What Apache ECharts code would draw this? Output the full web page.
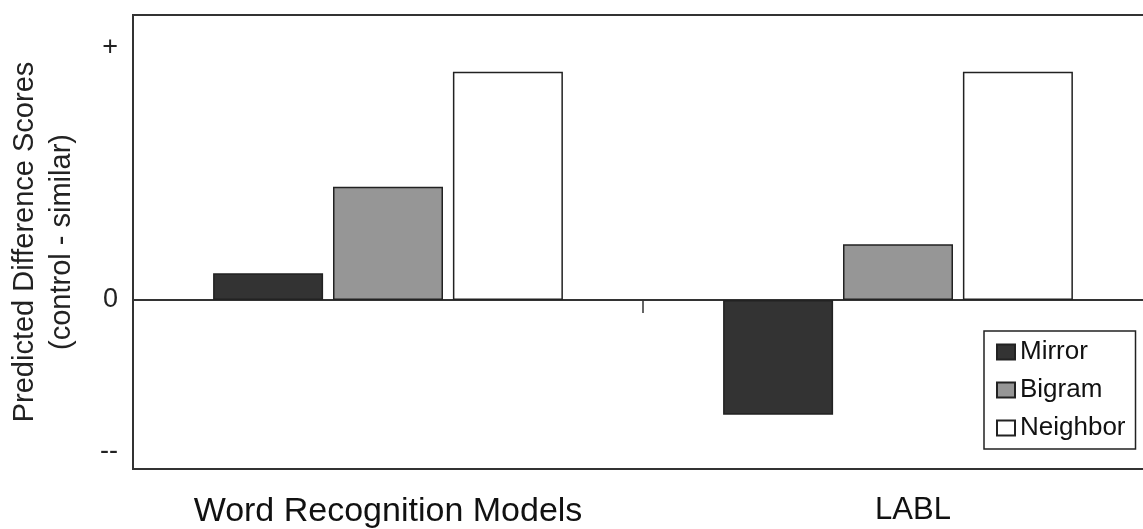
<!DOCTYPE html>
<html>
<head>
<meta charset="utf-8">
<script src="https://cdn.jsdelivr.net/npm/echarts@6/dist/echarts.min.js"></script>
<style>
html,body{margin:0;padding:0;background:#fff;}
#chart{width:1143px;height:529px;}
</style>
</head>
<body>
<div id="chart"></div>
<script>
// Data (y units: "+" tick = 100, "--" tick = -60)
var categories = ['Word Recognition Models', 'LABL'];
var seriesNames = ['Mirror', 'Bigram', 'Neighbor'];
var mirror = [10.6, -45.5];
var bigram = [44.9, 22.1];
var neighbor = [90.5, 90.5];
var yTickLabels = { '100': '+', '0': '0', '-60': '--' };

var FONT = '"Liberation Sans", Arial, sans-serif';
var colors = ['#333333', '#969696', '#ffffff'];
var values = [mirror, bigram, neighbor];

var chart = echarts.init(document.getElementById('chart'), null, { renderer: 'canvas' });

var series = seriesNames.map(function (name, i) {
  return {
    name: name,
    type: 'bar',
    xAxisIndex: 0,
    data: values[i],
    barWidth: 110,
    barGap: '9%',
    itemStyle: { color: colors[i], borderColor: '#222', borderWidth: 1.5 },
    emphasis: { disabled: true }
  };
});

chart.setOption({
  animation: false,
  backgroundColor: '#fff',
  textStyle: { fontFamily: FONT },
  grid: {
    left: 133, top: 15, bottom: 60, right: -10,
    show: true, borderColor: '#333', borderWidth: 2, backgroundColor: 'transparent',
    containLabel: false,
    outerBoundsMode: 'none'
  },
  legend: {
    orient: 'vertical',
    left: 984, top: 331,
    padding: [8, 10, 8, 12],
    itemWidth: 18, itemHeight: 15, itemGap: 12,
    borderColor: '#222', borderWidth: 1.5,
    backgroundColor: '#fff',
    icon: 'rect',
    textStyle: { fontFamily: FONT, fontSize: 26, color: '#111', lineHeight: 26 },
    data: seriesNames
  },
  xAxis: [
    {
      type: 'category',
      data: categories,
      position: 'bottom',
      axisLine: { show: false, onZero: false },
      axisTick: { show: false },
      axisLabel: {
        show: true, margin: 26, color: '#111', fontFamily: FONT, interval: 0,
        formatter: function (v, i) { return i === 0 ? '{a|' + v + '}' : '{b|' + v + '}'; },
        rich: {
          a: { fontSize: 34, color: '#111', fontFamily: FONT },
          b: { fontSize: 31, color: '#111', fontFamily: FONT, padding: [0, 0, 0, 30] }
        }
      },
      splitLine: { show: false }
    },
    {
      type: 'category',
      data: categories,
      position: 'top',
      axisLine: { show: true, onZero: true, lineStyle: { color: '#333', width: 2 } },
      axisTick: { show: true, inside: true, length: 13, lineStyle: { color: '#333', width: 1.5 } },
      axisLabel: { show: false },
      splitLine: { show: false }
    }
  ],
  yAxis: {
    type: 'value',
    min: -67, max: 113, interval: 1,
    name: 'Predicted Difference Scores\n(control - similar)',
    nameLocation: 'middle',
    nameRotate: 90,
    nameGap: 53,
    nameTextStyle: { fontSize: 29, color: '#222', fontFamily: FONT, lineHeight: 37, align: 'center' },
    axisLine: { show: false },
    axisTick: { show: false },
    splitLine: { show: false },
    axisLabel: {
      show: true, margin: 15, fontSize: 27, color: '#222', fontFamily: FONT,
      formatter: function (v) {
        var k = String(Math.round(v));
        return Math.abs(v - Math.round(v)) < 1e-6 && yTickLabels.hasOwnProperty(k) ? yTickLabels[k] : '';
      }
    }
  },
  series: series
});
</script>
</body>
</html>
